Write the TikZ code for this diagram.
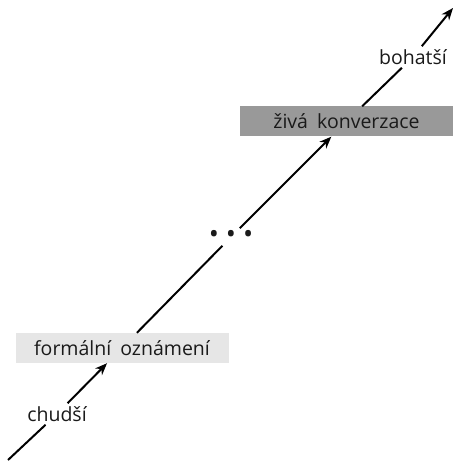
\documentclass[tikz,border=0pt]{standalone}
\usepackage{fontspec}
\setmainfont{Open Sans}
\usetikzlibrary{arrows.meta}
\definecolor{lightbox}{HTML}{E6E6E6}
\definecolor{darkbox}{HTML}{999999}
\definecolor{txt}{HTML}{1A1A1A}
\begin{document}
\begin{tikzpicture}[x=1pt,y=-1pt,
  every node/.style={text=txt},
  stage/.style={font=\fontsize{19.5}{22}\selectfont, minimum width=213pt, minimum height=30pt, inner sep=0pt},
  lbl/.style={font=\fontsize{19.5}{22}\selectfont, inner sep=3pt},
  conn/.style={line width=2pt},
  arr/.style={conn, -{Stealth[length=12pt,width=9.5pt]}}]
\useasboundingbox (0,0) rectangle (458,462);
\coordinate (s) at (8,460);
\node[lbl] (poor) at (57,414) {chudší};
\node[stage, fill=lightbox] (formal) at (122,348) {formální\hspace{4pt} oznámení};
\node[font=\fontsize{27}{28}\selectfont, inner sep=2pt] (dots) at (231,237) {•\hspace{7pt}•\hspace{7pt}•};
\node[stage, fill=darkbox] (live) at (346.5,121.5) {živá\hspace{4pt} konverzace};
\node[lbl] (rich) at (413,57) {bohatší};
\coordinate (e) at (453,8);
\draw[conn] (s) -- (poor);
\draw[arr] (poor) -- (formal);
\draw[conn] (formal) -- (dots);
\draw[arr] (dots) -- (live);
\draw[conn] (live) -- (rich);
\draw[arr] (rich) -- (e);
\end{tikzpicture}
\end{document}
